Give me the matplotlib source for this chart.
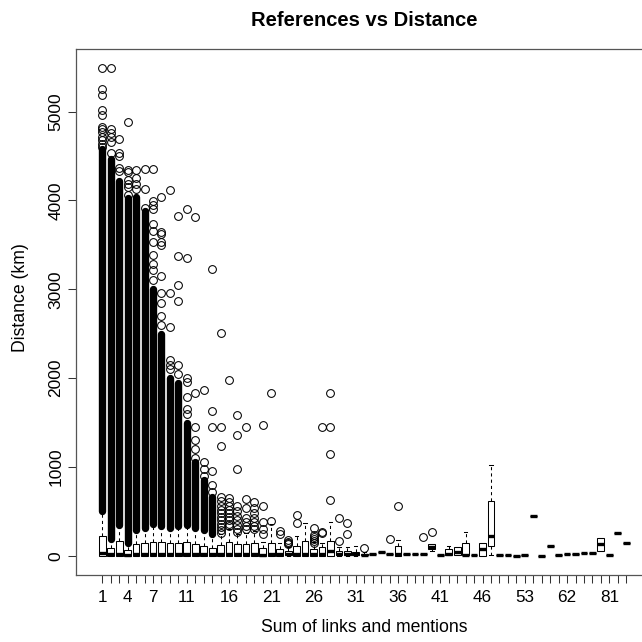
import matplotlib
matplotlib.use("Agg")
import matplotlib.pyplot as plt

# x categories (sum of links and mentions), only some are labelled like R does
CATS = list(range(1, 48)) + [48, 49, 51, 53, 54, 56, 58, 60, 62, 64, 67, 70, 75, 81, 89, 95]
LABELLED = [1, 4, 7, 11, 16, 21, 26, 31, 36, 41, 46, 53, 62, 81]

# box stats per category (km): q1, median, q3, lower whisker, upper whisker
Q1 = [0, 0, 0, 0, 0, 0, 0, 0, 0, 0, 0, 0, 0, 0, 0, 0, 0, 0, 0, 0,
      0, 0, 5, 0, 0, 0, 0, 0, 5, 5, 5, 5, 20, 42, 20, 0, 15, 20, 20, 75,
      8, 8, 10, 8, 8, 0, 113, 8, 8, 0, 8, 450, 0, 113, 8, 19, 19, 27, 34, 53, 8, 252, 143]
MED = [30, 15, 25, 10, 15, 15, 20, 20, 20, 20, 20, 15, 15, 15, 20, 20, 25, 15, 20, 10,
       20, 20, 20, 20, 25, 20, 20, 56, 15, 15, 15, 10, 23, 42, 20, 20, 15, 20, 20, 100,
       8, 20, 45, 8, 8, 79, 222, 8, 8, 0, 8, 450, 0, 113, 8, 19, 19, 27, 34, 128, 8, 252, 143]
Q3 = [222, 90, 169, 65, 132, 140, 158, 150, 140, 145, 150, 132, 112, 90, 125, 158, 135, 135, 146, 83,
      146, 78, 50, 106, 163, 78, 96, 163, 50, 50, 40, 25, 23, 42, 20, 112, 15, 20, 20, 130,
      8, 75, 94, 139, 8, 146, 620, 8, 8, 0, 8, 450, 0, 113, 8, 19, 19, 27, 34, 203, 8, 252, 143]
WLO = [0, 0, 0, 0, 0, 0, 0, 0, 0, 0, 0, 0, 0, 0, 0, 0, 0, 0, 0, 0,
       0, 0, 0, 0, 0, 0, 0, 0, 0, 0, 0, 0, 20, 42, 20, 0, 15, 20, 20, 50,
       8, 8, 8, 8, 8, 0, 8, 8, 8, 0, 8, 450, 0, 113, 8, 19, 19, 27, 34, 53, 8, 252, 143]
WHI = [480, 180, 330, 130, 275, 295, 340, 315, 300, 325, 330, 300, 270, 220, 250, 297, 250, 260, 282, 150,
       357, 146, 100, 222, 372, 150, 146, 383, 100, 100, 113, 40, 23, 42, 20, 177, 15, 20, 20, 130,
       8, 113, 94, 263, 8, 146, 1021, 8, 8, 0, 8, 450, 0, 113, 8, 19, 19, 27, 34, 203, 8, 252, 143]

# ranges where outlier circles overlap into a solid black column (category, low, high)
DENSE_CAT = [1, 2, 3, 4, 5, 6, 7, 8, 9, 10, 11, 12, 13, 14]
DENSE_LO = [505, 190, 345, 140, 290, 310, 357, 330, 315, 340, 345, 315, 290, 245]
DENSE_HI = [4580, 4470, 4220, 4030, 4040, 3880, 3000, 2500, 2000, 1950, 1500, 1050, 850, 660]

# single outliers (km)
OUTLIERS = {
    1: [5490, 5250, 5190, 5020, 4960, 4830, 4800, 4770, 4720, 4680, 4640, 4600],
    2: [5490, 4800, 4760, 4710, 4660, 4540],
    3: [4690, 4530, 4500, 4370, 4330],
    4: [4880, 4340, 4320, 4230, 4180, 4150, 4060],
    5: [4340, 4250, 4190, 4130],
    6: [4350, 4130, 3920],
    7: [4360, 3990, 3950, 3900, 3740, 3660, 3530, 3390, 3290, 3220, 3100],
    8: [4040, 3650, 3620, 3530, 3500, 3150, 2960, 2850, 2700, 2600],
    9: [4120, 2960, 2570, 2200, 2150, 2100],
    10: [3820, 3370, 3050, 2870, 2150, 2050],
    11: [3900, 3350, 2000, 1960, 1790, 1650, 1600],
    12: [3810, 1830, 1450, 1300, 1200, 1100],
    13: [1870, 1060, 980, 900],
    14: [3230, 1630, 1450, 950, 800, 720],
    15: [2510, 1450, 1230, 660, 620, 560, 520, 480, 440, 400, 360, 320, 290, 260],
    16: [1980, 650, 600, 560, 520, 480, 440, 400, 360, 330],
    17: [1580, 1360, 980, 560, 500, 450, 400, 350, 300, 270],
    18: [1450, 640, 540, 420, 380, 340, 300],
    19: [600, 540, 480, 420, 380, 340, 300],
    20: [1470, 560, 380, 300, 250],
    21: [1829, 394],
    22: [282, 244],
    23: [180, 160, 145, 130],
    24: [458, 365],
    26: [308, 233, 210, 190, 165, 143],
    27: [1446, 270, 252],
    28: [1829, 1446, 1149, 627],
    29: [428, 166],
    30: [372, 244],
    32: [83],
    35: [184],
    36: [560],
    39: [214],
    40: [263],
}

stats = []
for i, c in enumerate(CATS):
    stats.append(dict(q1=Q1[i], med=MED[i], q3=Q3[i], whislo=WLO[i], whishi=WHI[i],
                      fliers=OUTLIERS.get(i + 1, [])))

plt.rcParams["font.family"] = ["Liberation Sans", "DejaVu Sans"]
fig = plt.figure(figsize=(6.42, 6.42), dpi=100)
# plot region runs a little past the right edge of the picture, like the original
ax = fig.add_axes([76 / 642, 1 - 575 / 642, 576 / 642, (575 - 48.7) / 642])

pos = list(range(1, len(CATS) + 1))
ax.vlines([pos[c - 1] for c in DENSE_CAT], DENSE_LO, DENSE_HI, color="black",
          lw=5.3, capstyle="round", zorder=2)
ax.bxp(stats, positions=pos, widths=0.8, patch_artist=True, showfliers=True,
       boxprops=dict(facecolor="white", edgecolor="black", lw=0.75),
       medianprops=dict(color="black", lw=2.4, solid_capstyle="butt"),
       whiskerprops=dict(color="black", lw=0.75, linestyle=(0, (3, 3))),
       capprops=dict(color="black", lw=0.75),
       capwidths=0.4,
       flierprops=dict(marker="o", markerfacecolor="none", markeredgecolor="black",
                       markersize=5.6, markeredgewidth=0.75))

ax.set_xlim(-2.11, 66.05)
ax.set_ylim(-217, 5709)
ax.set_xticks(pos)
ax.set_xticklabels([str(c) if c in LABELLED else "" for c in CATS], fontsize=12.3)
ax.set_yticks([0, 1000, 2000, 3000, 4000, 5000])
ax.set_yticklabels(["0", "1000", "2000", "3000", "4000", "5000"], fontsize=12.5,
                   rotation=90, va="center")
ax.tick_params(axis="both", direction="out", length=5.8, width=0.75, color="#333333")
ax.tick_params(axis="x", pad=5)
ax.tick_params(axis="y", pad=3.3)
for s in ax.spines.values():
    s.set_linewidth(0.9)
    s.set_color("#555555")

fig.text(364 / 642, 1 - 20.5 / 642, "References vs Distance", ha="center", va="center",
         fontsize=14.5, fontweight="bold")
fig.text(364 / 642, 1 - 628 / 642, "Sum of links and mentions", ha="center",
         va="center", fontsize=12.7)
fig.text(20.5 / 642, 1 - 298 / 642, "Distance (km)", ha="center", va="center",
         fontsize=12.7, rotation=90)

fig.savefig("out.png", dpi=100, facecolor="white")
